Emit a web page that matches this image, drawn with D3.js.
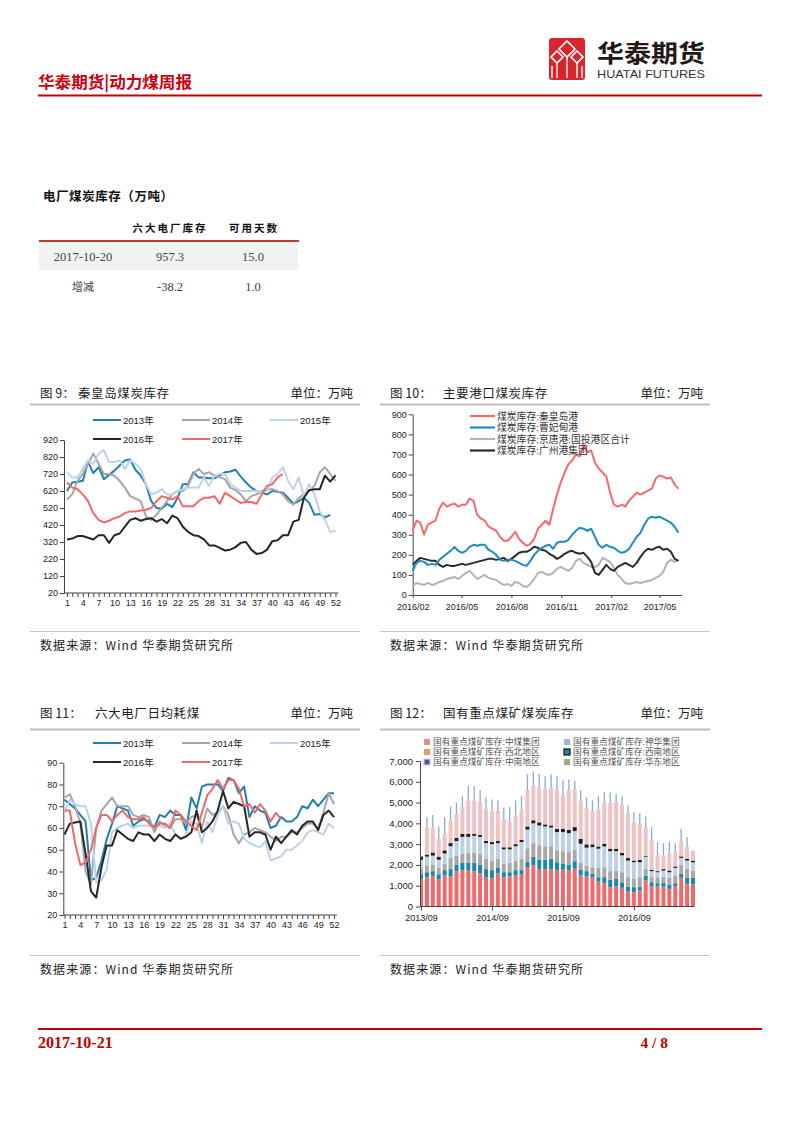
<!DOCTYPE html>
<html>
<head>
<meta charset="utf-8">
<script src="https://cdn.jsdelivr.net/npm/d3@7"></script>
<style>
  body { margin: 0; background: #fff; }
  svg { display: block; }
</style>
</head>
<body>
<svg id="page" width="793" height="1122" font-family="Noto Sans CJK SC, Liberation Sans, sans-serif"></svg>
<script>
// 周序号（图9、图11）
const weeks = d3.range(1, 53);

// 图9 秦皇岛煤炭库存（万吨）
const qhd2013 = [620,670,675,680,790,725,760,690,715,740,770,800,805,745,710,660,560,520,515,545,525,580,660,660,730,700,700,695,695,710,730,735,745,705,670,640,620,610,600,620,615,610,580,545,560,580,550,480,485,465,480];
const qhd2014 = [570,600,680,720,780,840,780,720,720,710,680,640,590,575,560,470,450,480,520,560,600,620,620,650,720,750,720,730,710,700,690,640,625,600,560,590,600,620,630,630,620,600,560,540,580,600,620,650,730,760,720,680];
const qhd2015 = [730,700,700,750,800,780,840,860,790,790,800,750,800,780,750,660,600,610,630,600,600,620,630,640,640,640,700,650,710,720,720,660,640,620,620,620,620,610,620,700,720,760,680,630,700,590,660,600,500,450,380,385];
const qhd2016 = [335,340,355,355,345,335,360,360,315,360,370,410,450,460,445,455,460,440,455,430,475,460,410,380,360,355,335,300,300,285,270,275,290,315,320,275,250,255,275,325,330,360,360,440,450,580,625,630,630,710,675,712];
const qhd2017 = [670,640,630,600,560,490,450,435,445,460,470,490,500,500,505,510,520,560,590,580,570,590,530,530,530,560,580,580,590,545,610,590,570,550,555,555,545,600,650,660,700,720];
const qhdTicks = [20,120,220,320,420,520,620,720,820,920];

// 图11 六大电厂日均耗煤（万吨）
const burn2013 = [73,71,69,66,63,36,37,45,55,62,70,69,68,61,63,64,63,60,66,65,68,66,66,59,74,69,79,80,80,80,77,83,82,76,79,65,70,68,67,60,61,65,63,63,65,70,69,73,70,73,76,76];
const burn2014 = [74,75.5,70,62,40,34,60,68,71,74,70,70,70,66,65,66,65,58,63,61,60,64,64,62,65,66,60,69,66,67,70,66,57,53,57,58,60,59,58,56,54,56,56,58,58,60,62,62,60,67,76,71];
const burn2015 = [67,73,71,70,70,62,35,36,41,58,60,61,62,60,61,61,61,60,61,60,62,57,55,57,63,62,53,63,58,66,70,62,63,62,55,53,52,51,54,45,46,47,50,50,52,54,58,59,58,57,62,60];
const burn2016 = [57,62,62.5,63,48,31,28,42,52,52,59,57,55,54,58,57,57,54,57,55,54,57,55,56,58,68,58,60,63,68,77,69,72,71,70,56,58,58,57,50,56,53,56,59,57,61,63,63,59,66,68,65];
const burn2017 = [68,68,53,43,44,50,60,66,66,63,66,68,65,64,64,65,62,60,62,62,60,68,66,63,61,59,67,75,78,82,78,82,82,78,70,71,67,71,68,63,67,64];
const burnTicks = [20,30,40,50,60,70,80,90];

// 图10 主要港口煤炭库存（周度读数，自2016-02-01起）
const portStart = new Date(2016, 1, 1);
const portQhd = [320,370,360,300,350,360,370,430,460,440,450,455,440,450,450,480,470,400,380,370,340,330,320,290,270,270,290,315,280,260,245,255,280,330,350,370,350,430,500,560,610,650,670,700,690,750,710,720,660,630,610,590,510,450,440,450,440,470,490,510,500,510,520,530,580,595,590,580,585,550,530];
const portCfd = [120,160,170,165,150,155,150,175,190,205,220,240,220,210,220,240,250,245,250,250,225,215,200,175,170,175,175,170,160,150,145,170,200,220,235,245,250,230,260,265,265,275,300,320,335,330,320,330,290,250,235,250,240,235,220,210,215,230,260,290,310,350,380,390,385,390,380,370,360,340,310];
const portJt = [45,60,55,50,60,50,55,65,70,80,85,90,80,95,110,120,100,80,90,100,85,80,75,60,50,55,45,65,60,45,40,55,80,110,115,105,100,110,130,140,130,120,135,170,180,160,150,140,140,150,185,175,165,135,100,80,60,55,60,65,60,65,70,75,85,95,115,160,175,165,175];
const portGz = [150,170,185,180,175,170,170,150,140,150,145,145,150,155,150,155,160,165,170,175,180,180,175,180,185,170,180,195,210,215,215,225,240,235,225,220,205,195,180,190,205,215,220,210,205,210,190,165,110,100,125,150,130,120,140,150,160,150,140,160,190,215,230,225,235,240,225,230,215,180,170];
const portTickLabels = ['2016/02','2016/05','2016/08','2016/11','2017/02','2017/05'];
const portTicks = [0,100,200,300,400,500,600,700,800,900];

// 图12 国有重点煤矿煤炭库存（月度，2013/09 起）
const mineMonths = d3.timeMonth.range(new Date(2013, 8, 1), new Date(2017, 7, 1));
const stockXibei = [1300,1400,1480,1300,1500,1450,1700,1750,1750,1700,1600,1400,1350,1600,1400,1450,1500,1550,1900,2000,1800,1800,1800,1730,1770,1730,1850,1490,1440,1410,1200,1120,930,960,900,740,690,770,1250,960,960,960,850,960,1380,1090,1060];
const stockZhongnan = [250,250,220,250,250,350,300,350,350,400,400,400,400,250,250,200,250,200,250,400,450,450,500,400,280,290,330,290,260,160,210,290,350,370,260,220,240,190,230,210,160,180,210,160,190,290,320];
const stockHuadong = [250,300,300,300,300,550,450,450,500,500,550,500,450,450,400,450,450,550,650,650,700,650,600,570,610,600,550,320,270,320,450,480,420,400,490,450,400,450,330,240,290,300,320,370,450,430,350];
const stockShenhua = [450,450,450,400,500,550,700,800,750,800,800,750,800,750,700,650,700,800,900,950,950,950,900,880,920,910,900,920,860,970,920,1000,960,930,810,800,800,720,570,290,240,290,270,370,320,400,400];
const stockXinan = [150,100,150,150,150,150,150,150,150,100,100,100,100,100,100,100,100,100,150,150,150,100,100,160,160,160,190,240,160,130,110,130,120,120,120,120,80,120,40,70,50,70,80,70,70,90,80];
const stockZhongmei = [0,1350,1200,850,800,1100,1150,1300,1600,1600,1600,1550,1500,1450,1350,1250,1380,1420,1740,1680,1700,1720,1810,1860,1610,1910,1830,1840,1760,1600,1810,1980,2220,2270,2280,2160,1850,1730,1400,1440,800,660,840,670,740,560,490];
const stockOther = [0,450,600,600,800,650,550,500,700,700,550,550,550,500,550,680,720,680,770,670,640,590,650,660,720,500,400,500,510,510,600,500,500,380,440,370,480,510,510,610,600,590,530,450,590,480,0];
const stockTicks = [0,1000,2000,3000,4000,5000,6000,7000];

const svg = d3.select('#page');
const RED = '#c00000';
const LATIN_FIRST = 'Liberation Sans, Noto Sans CJK SC, sans-serif';
const SERIF = 'Liberation Serif, Times New Roman, serif';

// ---------- 页眉 ----------
svg.append('text').attr('x', 38).attr('y', 88)
  .attr('fill', '#c8000f').attr('font-size', 16).attr('font-weight', 'bold')
  .attr('textLength', 154).attr('lengthAdjust', 'spacingAndGlyphs')
  .text('华泰期货|动力煤周报');
svg.append('line').attr('x1', 38).attr('x2', 762).attr('y1', 95.5).attr('y2', 95.5)
  .attr('stroke', RED).attr('stroke-width', 2);

const logo = svg.append('g');
logo.append('rect').attr('x', 549).attr('y', 38).attr('width', 36).attr('height', 42).attr('rx', 3).attr('fill', '#d9262c');
const diamond = (cx, cy, r) => `M${cx},${cy - r}L${cx + r},${cy}L${cx},${cy + r}L${cx - r},${cy}Z`;
[[567, 49, 8], [557, 57, 6], [577, 57, 6]].forEach(([cx, cy, r]) => {
  logo.append('path').attr('d', diamond(cx, cy, r)).attr('fill', 'none').attr('stroke', '#fff').attr('stroke-width', 1.6);
});
[[557, 63], [567, 57], [577, 63], [552, 66], [582, 66]].forEach(([lx, ly]) => {
  logo.append('line').attr('x1', lx).attr('x2', lx).attr('y1', ly).attr('y2', 78).attr('stroke', '#fff').attr('stroke-width', 1.4);
});
svg.append('text').attr('x', 597).attr('y', 62).attr('font-size', 24).attr('font-weight', 'bold')
  .attr('font-family', LATIN_FIRST)
  .attr('fill', '#231815').attr('textLength', 108).attr('lengthAdjust', 'spacingAndGlyphs').text('华泰期货');
svg.append('text').attr('x', 597).attr('y', 77.5).attr('font-size', 10.5)
  .attr('font-family', 'Liberation Sans, Arial, sans-serif')
  .attr('fill', '#333').attr('textLength', 108).attr('lengthAdjust', 'spacingAndGlyphs').text('HUATAI FUTURES');

// ---------- 电厂煤炭库存表 ----------
svg.append('text').attr('x', 43).attr('y', 201).attr('font-size', 12.5).attr('font-weight', 'bold')
  .attr('fill', '#111').attr('textLength', 130).text('电厂煤炭库存（万吨）');
svg.append('text').attr('x', 170).attr('y', 232).attr('text-anchor', 'middle').attr('font-size', 10.5)
  .attr('font-weight', 'bold').attr('letter-spacing', 2).attr('fill', '#111').text('六大电厂库存');
svg.append('text').attr('x', 254).attr('y', 232).attr('text-anchor', 'middle').attr('font-size', 10.5)
  .attr('font-weight', 'bold').attr('letter-spacing', 2).attr('fill', '#111').text('可用天数');
svg.append('rect').attr('x', 39).attr('y', 242).attr('width', 259).attr('height', 28).attr('fill', '#f2f2f2');
svg.append('line').attr('x1', 39).attr('x2', 299).attr('y1', 241).attr('y2', 241).attr('stroke', '#c0392b').attr('stroke-width', 2);
const tableRows = [['2017-10-20', '957.3', '15.0'], ['增减', '-38.2', '1.0']];
const colX = [83, 170, 253];
tableRows.forEach((row, r) => {
  row.forEach((cell, c) => {
    svg.append('text').attr('x', colX[c]).attr('y', 261 + r * 30).attr('text-anchor', 'middle')
      .attr('font-size', cell === '增减' ? 11 : 12.5)
      .attr('font-family', cell === '增减' ? 'Noto Sans CJK SC' : SERIF)
      .attr('fill', '#444').text(cell);
  });
});

// ---------- 图框 ----------
function panelFrame(left, right, titleY, lineY, fig, name, nameX, srcY) {
  svg.append('text').attr('x', left + 10).attr('y', titleY).attr('font-size', 12.5).attr('fill', '#222').text(fig);
  svg.append('text').attr('x', nameX).attr('y', titleY).attr('font-size', 12.5).attr('letter-spacing', 0.6)
    .attr('fill', '#222').text(name);
  svg.append('text').attr('x', right - 7).attr('y', titleY).attr('text-anchor', 'end').attr('font-size', 12.5)
    .attr('fill', '#222').text('单位：万吨');
  svg.append('line').attr('x1', left).attr('x2', right).attr('y1', lineY).attr('y2', lineY)
    .attr('stroke', '#bdbdbd').attr('stroke-width', 2);
  svg.append('line').attr('x1', left).attr('x2', right).attr('y1', srcY).attr('y2', srcY)
    .attr('stroke', '#c4c4c4').attr('stroke-width', 1);
  svg.append('text').attr('x', left + 10).attr('y', srcY + 18).attr('font-size', 12).attr('fill', '#222')
    .attr('textLength', 193).attr('lengthAdjust', 'spacing').text('数据来源：Wind  华泰期货研究所');
}

function styleAxis(g, size) {
  g.attr('font-family', null);
  g.selectAll('text').attr('font-size', size || 9).attr('font-family', 'Liberation Sans, Arial, sans-serif').attr('fill', '#222');
  g.selectAll('line').attr('stroke', '#444');
  g.select('.domain').attr('stroke', '#444');
}

// ---------- 图9 / 图11：分年度周度折线 ----------
const yearColors = ['#1f80ad', '#a6a6a6', '#bdd1e8', '#262626', '#f0686a'];
const yearNames = ['2013年', '2014年', '2015年', '2016年', '2017年'];

function yearChart(series, ticks, xRange, yRange, axisX, legendRows) {
  const x = d3.scaleLinear().domain([1, 52]).range(xRange);
  const y = d3.scaleLinear().domain([ticks[0], ticks[ticks.length - 1]]).range(yRange);
  const g = svg.append('g');

  const ya = g.append('g').attr('transform', `translate(${axisX},0)`)
    .call(d3.axisLeft(y).tickValues(ticks).tickSize(4).tickSizeOuter(0).tickPadding(2));
  styleAxis(ya);
  const xa = g.append('g').attr('transform', `translate(0,${yRange[0]})`)
    .call(d3.axisBottom(x).tickValues(weeks).tickSize(4).tickPadding(3)
      .tickFormat(d => (d - 1) % 3 === 0 ? d : ''));
  xa.select('.domain').remove();
  styleAxis(xa);
  g.append('line').attr('x1', axisX).attr('x2', xRange[1] + 3).attr('y1', yRange[0]).attr('y2', yRange[0]).attr('stroke', '#444');

  const line = d3.line().x((d, i) => x(weeks[i])).y(d => y(d));
  series.forEach((s, k) => {
    g.append('path').datum(s).attr('d', line).attr('fill', 'none')
      .attr('stroke', yearColors[k]).attr('stroke-width', 2).attr('stroke-linejoin', 'round');
  });

  const legX = [[93, 121], [182, 210], [270, 298], [93, 121], [182, 210]];
  yearNames.forEach((nm, k) => {
    const ly = legendRows[k < 3 ? 0 : 1];
    g.append('line').attr('x1', legX[k][0]).attr('x2', legX[k][1]).attr('y1', ly).attr('y2', ly)
      .attr('stroke', yearColors[k]).attr('stroke-width', 2);
    g.append('text').attr('x', legX[k][1] + 2).attr('y', ly + 3.5).attr('font-size', 9.5)
      .attr('font-family', LATIN_FIRST).attr('fill', '#222').text(nm);
  });
}

panelFrame(30, 360, 398, 404.5, '图 9：', '秦皇岛煤炭库存', 78, 631.5);
yearChart([qhd2013, qhd2014, qhd2015, qhd2016, qhd2017], qhdTicks, [67, 335.5], [593, 440], 64, [420, 439]);

panelFrame(30, 360, 718, 729.5, '图 11：', '六大电厂日均耗煤', 95, 955.5);
yearChart([burn2013, burn2014, burn2015, burn2016, burn2017], burnTicks, [64.5, 334], [915, 762.7], 63.3, [743, 762]);

// ---------- 图10：主要港口煤炭库存 ----------
panelFrame(380, 710, 398, 404.5, '图 10：', '主要港口煤炭库存', 443, 631.5);
{
  const parseM = d3.timeParse('%Y/%m');
  const dates = portQhd.map((d, i) => d3.timeDay.offset(portStart, 7 * i));
  const x = d3.scaleTime().domain([portStart, new Date(2017, 5, 11)]).range([412.7, 681.7]);
  const y = d3.scaleLinear().domain([0, 900]).range([595, 414.3]);
  const g = svg.append('g');
  const ya = g.append('g').attr('transform', 'translate(412.7,0)')
    .call(d3.axisLeft(y).tickValues(portTicks).tickSize(4).tickSizeOuter(0).tickPadding(2));
  styleAxis(ya, 9);
  const xa = g.append('g').attr('transform', 'translate(0,595)')
    .call(d3.axisBottom(x).tickValues(portTickLabels.map(parseM)).tickSize(3).tickSizeOuter(0).tickPadding(6)
      .tickFormat(d3.timeFormat('%Y/%m')));
  styleAxis(xa, 9);

  const portSeries = [
    { name: '煤炭库存:秦皇岛港', values: portQhd, color: '#f36b6b' },
    { name: '煤炭库存:曹妃甸港', values: portCfd, color: '#1f8bc2' },
    { name: '煤炭库存:京唐港:国投港区合计', values: portJt, color: '#b3b3b3' },
    { name: '煤炭库存:广州港集团', values: portGz, color: '#2b2b2b' }
  ];
  const line = d3.line().x((d, i) => x(dates[i])).y(d => y(d));
  [2, 3, 1, 0].forEach(k => {
    g.append('path').datum(portSeries[k].values).attr('d', line).attr('fill', 'none')
      .attr('stroke', portSeries[k].color).attr('stroke-width', 2).attr('stroke-linejoin', 'round');
  });
  portSeries.forEach((s, k) => {
    const ly = 416 + k * 11.5;
    g.append('line').attr('x1', 470).attr('x2', 495).attr('y1', ly).attr('y2', ly)
      .attr('stroke', s.color).attr('stroke-width', 2.2);
    g.append('text').attr('x', 497).attr('y', ly + 3.6).attr('font-size', 9.8)
      .attr('font-family', LATIN_FIRST).attr('fill', '#333').text(s.name);
  });
}

// ---------- 图12：国有重点煤矿煤炭库存 ----------
panelFrame(380, 710, 718, 729.5, '图 12：', '国有重点煤矿煤炭库存', 443, 955.5);
{
  const keys = ['xibei', 'zhongnan', 'huadong', 'shenhua', 'xinan', 'zhongmei', 'other'];
  const colors = { xibei: '#ef6a6a', zhongnan: '#1b88a9', huadong: '#a8a8a8', shenhua: '#bed0e6',
    xinan: '#1e1e1e', zhongmei: '#efc3c3', other: '#8ea9d2' };
  const rows = mineMonths.map((m, i) => ({
    i, xibei: stockXibei[i], zhongnan: stockZhongnan[i], huadong: stockHuadong[i], shenhua: stockShenhua[i],
    xinan: stockXinan[i], zhongmei: stockZhongmei[i], other: stockOther[i]
  }));
  const stacked = d3.stack().keys(keys)(rows);
  const x = d3.scaleLinear().domain([0, mineMonths.length - 1]).range([421, 693]);
  const y = d3.scaleLinear().domain([0, 7000]).range([906.5, 761]);
  const g = svg.append('g');

  svg.append('clipPath').attr('id', 'mineClip').append('rect')
    .attr('x', 420.5).attr('y', 740).attr('width', 280).attr('height', 170);
  const bars = g.append('g').attr('clip-path', 'url(#mineClip)');
  stacked.forEach(layer => {
    const w = layer.key === 'other' ? 1.3 : 4;
    bars.selectAll(null).data(layer).join('rect')
      .attr('x', d => x(d.data.i) - w / 2)
      .attr('width', w)
      .attr('y', d => y(d[1]))
      .attr('height', d => Math.max(0, y(d[0]) - y(d[1])))
      .attr('fill', colors[layer.key]);
  });

  const ya = g.append('g').attr('transform', 'translate(420,0)')
    .call(d3.axisLeft(y).tickValues(stockTicks).tickSize(4).tickSizeOuter(0).tickPadding(3).tickFormat(d3.format(',')));
  styleAxis(ya, 9.5);
  const fmt = d3.timeFormat('%Y/%m');
  const xa = g.append('g').attr('transform', 'translate(0,906.5)')
    .call(d3.axisBottom(x).tickValues([0, 12, 24, 36]).tickSize(4).tickSizeOuter(0).tickPadding(4)
      .tickFormat(i => fmt(mineMonths[i])));
  xa.select('.domain').remove();
  styleAxis(xa, 9);
  g.append('line').attr('x1', 420).attr('x2', 694).attr('y1', 906.5).attr('y2', 906.5).attr('stroke', '#444');

  const legend = [
    { label: '国有重点煤矿库存:中煤集团', fill: '#d9908e', col: 0, row: 0 },
    { label: '国有重点煤矿库存:神华集团', fill: '#9fb3da', col: 1, row: 0 },
    { label: '国有重点煤矿库存:西北地区', fill: '#eb956f', col: 0, row: 1 },
    { label: '国有重点煤矿库存:西南地区', fill: '#1b88a9', stroke: '#111', col: 1, row: 1 },
    { label: '国有重点煤矿库存:中南地区', fill: '#5b4f9a', stroke: '#c9cde8', col: 0, row: 2 },
    { label: '国有重点煤矿库存:华东地区', fill: '#9dab86', col: 1, row: 2 }
  ];
  legend.forEach(l => {
    const lx = l.col ? 564 : 424;
    const ly = 742 + l.row * 10;
    g.append('rect').attr('x', lx).attr('y', ly - 3).attr('width', 6).attr('height', 6)
      .attr('fill', l.fill).attr('stroke', l.stroke || 'none').attr('stroke-width', l.stroke ? 1.2 : 0);
    g.append('text').attr('x', lx + 9).attr('y', ly + 3).attr('font-size', 8.7)
      .attr('font-family', LATIN_FIRST).attr('fill', '#555').text(l.label);
  });
}

// ---------- 页脚 ----------
svg.append('line').attr('x1', 38).attr('x2', 762).attr('y1', 1029).attr('y2', 1029)
  .attr('stroke', RED).attr('stroke-width', 2);
svg.append('text').attr('x', 38).attr('y', 1048).attr('font-size', 16).attr('font-weight', 'bold')
  .attr('font-family', SERIF).attr('fill', RED).text('2017-10-21');
svg.append('text').attr('x', 668).attr('y', 1048).attr('text-anchor', 'end').attr('font-size', 15.5).attr('font-weight', 'bold')
  .attr('font-family', SERIF).attr('fill', RED).text('4 / 8');
</script>
</body>
</html>
